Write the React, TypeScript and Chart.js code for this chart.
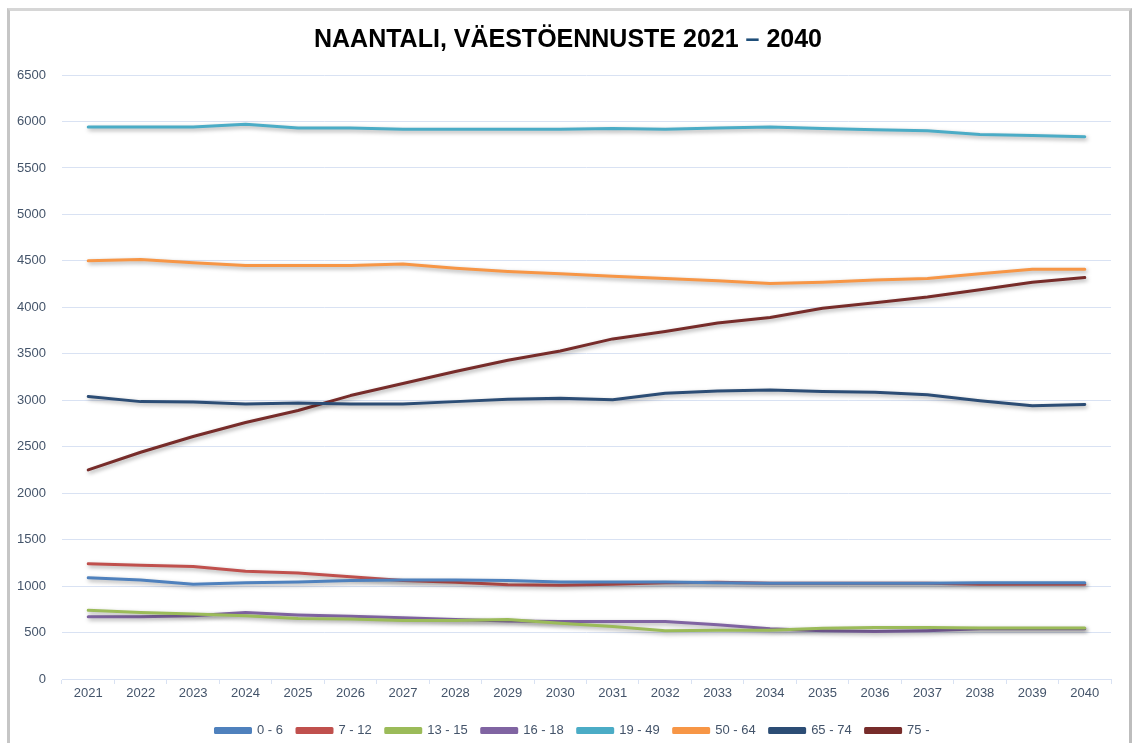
import React, { useEffect, useRef } from "react";
import { Chart, registerables } from "chart.js";

Chart.register(...registerables);

const years = ["2021","2022","2023","2024","2025","2026","2027","2028","2029","2030","2031","2032","2033","2034","2035","2036","2037","2038","2039","2040"];

const age0_6 = [1090,1065,1020,1035,1045,1060,1065,1065,1060,1045,1045,1045,1035,1030,1030,1030,1030,1035,1035,1035];
const age7_12 = [1240,1225,1210,1160,1140,1100,1060,1040,1015,1010,1020,1035,1040,1030,1030,1030,1030,1020,1020,1020];
const age13_15 = [740,715,700,680,650,645,630,630,640,600,565,520,525,525,545,555,555,550,550,550];
const age16_18 = [670,670,680,715,690,675,660,640,625,620,620,620,585,540,520,510,520,540,540,540];
const age19_49 = [5940,5940,5940,5970,5930,5930,5915,5915,5915,5915,5925,5915,5930,5940,5925,5910,5900,5860,5850,5835];
const age50_64 = [4500,4515,4480,4450,4450,4450,4465,4420,4385,4360,4335,4310,4285,4255,4270,4295,4310,4360,4410,4410];
const age65_74 = [3040,2985,2980,2960,2970,2960,2960,2985,3010,3020,3005,3075,3100,3110,3095,3085,3060,2995,2940,2955];
const age75 = [2250,2440,2610,2760,2890,3050,3180,3310,3430,3530,3660,3740,3830,3890,3990,4050,4110,4190,4270,4320];

const seriesLabels = ["0 - 6","7 - 12","13 - 15","16 - 18","19 - 49","50 - 64","65 - 74","75 -"];
const seriesData = [age0_6, age7_12, age13_15, age16_18, age19_49, age50_64, age65_74, age75];
const seriesColors = ["#4F81BD","#C0504D","#9BBB59","#8064A2","#4BACC6","#F79646","#2C4D75","#772C2A"];

const titleText = "NAANTALI, VÄESTÖENNUSTE 2021 – 2040";
const titlePrefix = "NAANTALI, VÄESTÖENNUSTE 2021 ";
const TEXT = "#44546A";
const GRID = "#D9E2F3";
const TITLE_FONT = { family: "'Liberation Sans', Arial, sans-serif", size: 25, weight: "bold" as const, lineHeight: 1.2 };
const TICK_FONT = { family: "'Liberation Sans', Arial, sans-serif", size: 13 };

const shadowPlugin = {
  id: "lineShadow",
  beforeDatasetDraw(chart: any) {
    const ctx = chart.ctx;
    ctx.save();
    ctx.shadowColor = "rgba(0,0,0,0.35)";
    ctx.shadowBlur = 4;
    ctx.shadowOffsetX = 1.5;
    ctx.shadowOffsetY = 2;
  },
  afterDatasetDraw(chart: any) {
    chart.ctx.restore();
  },
};

const shiftPlugin = {
  id: "shiftBoxes",
  afterLayout(chart: any) {
    const tb = chart.titleBlock;
    if (tb) { tb.left += 12.5; tb.right += 12.5; }
    const lg = chart.legend;
    if (lg) { lg.left += 17; lg.right += 17; }
  },
};

const dashPlugin = {
  id: "titleDash",
  afterDraw(chart: any) {
    const tb = chart.titleBlock;
    if (!tb) return;
    const ctx = chart.ctx;
    ctx.save();
    ctx.font = `bold ${TITLE_FONT.size}px ${TITLE_FONT.family}`;
    const fullW = ctx.measureText(titleText).width;
    const preW = ctx.measureText(titlePrefix).width;
    const dashW = ctx.measureText("–").width;
    const cx = (tb.left + tb.right) / 2;
    const x0 = cx - fullW / 2 + preW;
    const pad = tb.options.padding;
    const lh = TITLE_FONT.size * TITLE_FONT.lineHeight;
    const y = tb.top + (typeof pad === "number" ? pad : pad.top) + lh / 2;
    ctx.fillStyle = "#ffffff";
    ctx.fillRect(x0 - 0.5, y - 5, dashW + 1, 10);
    ctx.fillStyle = "#1F4E79";
    ctx.textAlign = "left";
    ctx.textBaseline = "middle";
    ctx.fillText("–", x0, y);
    ctx.restore();
  },
};

export default function App() {
  const ref = useRef<HTMLCanvasElement | null>(null);

  useEffect(() => {
    if (!ref.current) return;
    const chart = new Chart(ref.current, {
      type: "line",
      data: {
        labels: years,
        datasets: seriesData.map((d, i) => ({
          label: seriesLabels[i],
          data: d,
          borderColor: seriesColors[i],
          backgroundColor: seriesColors[i],
          borderWidth: 3,
          pointRadius: 0,
          tension: 0,
          borderJoinStyle: "round" as const,
          borderCapStyle: "round" as const,
          fill: false,
        })),
      },
      options: {
        responsive: false,
        animation: false,
        maintainAspectRatio: false,
        layout: { padding: { left: 0, right: 23, top: 0, bottom: -4 } },
        plugins: {
          title: {
            display: true,
            text: titleText,
            color: "#000000",
            font: TITLE_FONT,
            padding: { top: 25, bottom: 20 },
          },
          legend: {
            position: "bottom",
            labels: {
              boxWidth: 35,
              boxHeight: 4,
              padding: 14,
              color: TEXT,
              font: TICK_FONT,
            },
          },
          tooltip: { enabled: false },
        },
        scales: {
          x: {
            offset: true,
            afterFit: (s: any) => { s.height = 31; },
            grid: { offset: true, drawOnChartArea: false, drawTicks: true, tickLength: 5, color: GRID },
            border: { display: true, color: GRID },
            ticks: { color: TEXT, padding: 2, maxRotation: 0, autoSkip: false, font: TICK_FONT },
          },
          y: {
            min: 0,
            max: 6500,
            afterFit: (s: any) => { s.width = 62; },
            grid: { color: GRID, drawTicks: false },
            border: { display: false },
            ticks: { stepSize: 500, padding: 16, color: TEXT, font: TICK_FONT, callback: (v: any) => String(v) },
          },
        },
      },
      plugins: [shadowPlugin, shiftPlugin, dashPlugin],
    });
    return () => chart.destroy();
  }, []);

  return (
    <div style={{ position: "fixed", left: 0, top: 0, width: 1134, height: 743, background: "#ffffff", overflow: "hidden" }}>
      <div style={{ position: "absolute", left: 7, top: 8, width: 1119, height: 740, borderLeft: "3px solid #c6c6c6", borderTop: "3px solid #d6d6d6", borderRight: "3px solid #bdbdbd", boxSizing: "content-box" }} />
      <canvas ref={ref} width={1134} height={743} style={{ position: "absolute", left: 0, top: 0, width: 1134, height: 743 }} />
    </div>
  );
}
